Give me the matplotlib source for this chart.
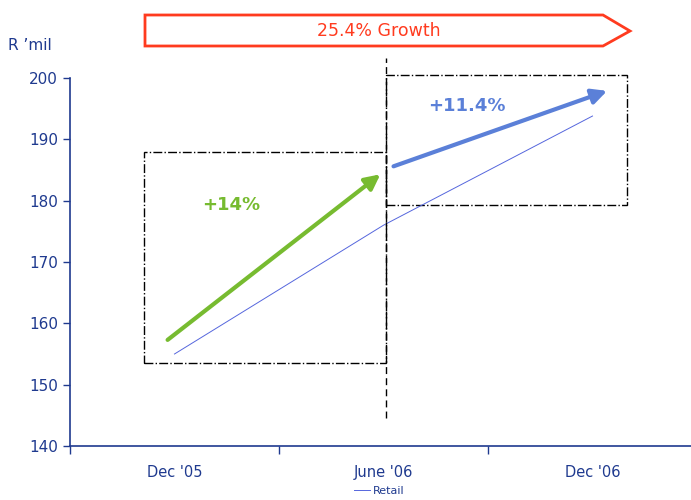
import matplotlib
matplotlib.use("Agg")
import matplotlib.pyplot as plt
from matplotlib.patches import Polygon, Rectangle

categories = ["Dec '05", "June '06", "Dec '06"]
retail = [155.0, 176.0, 193.8]
yticks = [140, 150, 160, 170, 180, 190, 200]
banner_text = "25.4% Growth"
growth1_label = "+14%"
growth2_label = "+11.4%"

navy = "#1F3A8F"
fig = plt.figure(figsize=(6.91, 5.0), dpi=100)
W, H = 691, 500
ax = fig.add_axes([70 / W, 1 - 446 / H, (691 - 70) / W, (446 - 78) / H])

x = [1, 2, 3]
ax.plot(x, retail, color="#5566DD", lw=0.7, label="Retail")
ax.set_ylim(140, 200)
ax.set_xlim(0.5, 0.5 + (691 - 70) / 209)
ax.set_yticks(yticks)
ax.set_xticks([0.5, 1.5, 2.5])
ax.set_xticklabels([])
ax.set_xticks(x, minor=True)
ax.set_xticklabels(categories, minor=True)
ax.tick_params(axis="x", which="minor", length=0, pad=14, labelsize=10.5, labelcolor=navy)
ax.tick_params(axis="x", which="major", length=6, color=navy, width=1)
ax.tick_params(axis="y", length=5, color=navy, labelsize=11, labelcolor=navy, width=1)
for s in ["top", "right"]:
    ax.spines[s].set_visible(False)
for s in ["left", "bottom"]:
    ax.spines[s].set_color(navy)
    ax.spines[s].set_linewidth(1.2)

# growth arrows
ax.annotate("", xy=(1.985, 184.3), xytext=(0.967, 157.3),
            arrowprops=dict(arrowstyle="-|>,head_length=0.9,head_width=0.45", color="#77BB30", lw=3, shrinkA=0, shrinkB=0))
ax.annotate("", xy=(3.07, 197.9), xytext=(2.048, 185.6),
            arrowprops=dict(arrowstyle="-|>,head_length=0.9,head_width=0.45", color="#5B80D8", lw=3, shrinkA=0, shrinkB=0))
ax.text(1.27, 179.3, growth1_label, color="#77BB30", fontsize=13, fontweight="bold", ha="center", va="center")
ax.text(2.4, 195.4, growth2_label, color="#5B80D8", fontsize=13, fontweight="bold", ha="center", va="center")

# dash-dot boxes
ax.add_patch(Rectangle((0.856, 153.5), 2.01 - 0.856, 187.9 - 153.5, fill=False, ls="-.", lw=1, ec="black"))
ax.add_patch(Rectangle((2.01, 179.3), 3.167 - 2.01, 200.5 - 179.3, fill=False, ls="-.", lw=1, ec="black", clip_on=False))
ax.plot([2.01, 2.01], [144.6, 203.3], color="black", lw=1, ls=(0, (5, 3)), clip_on=False)

# banner
pts = [(145, 15), (603, 15), (630, 31), (603, 46), (145, 46)]
fpts = [(px / W, 1 - py / H) for px, py in pts]
fig.patches.append(Polygon(fpts, closed=True, transform=fig.transFigure, fc="white", ec="#FF3B1F", lw=2))
fig.text(379 / W, 1 - 31 / H, banner_text, color="#FF3B1F", fontsize=12.5, ha="center", va="center")

fig.text(8 / W, 1 - 45 / H, "R \u2019mil", color=navy, fontsize=11, ha="left", va="center")

leg = ax.legend(loc="center", bbox_to_anchor=(379 / W, 1 - 491 / H), bbox_transform=fig.transFigure,
                frameon=False, fontsize=8, handlelength=1.5, handletextpad=0.2, borderpad=0.1)
for t in leg.get_texts():
    t.set_color(navy)

fig.savefig("out.png", dpi=100)
